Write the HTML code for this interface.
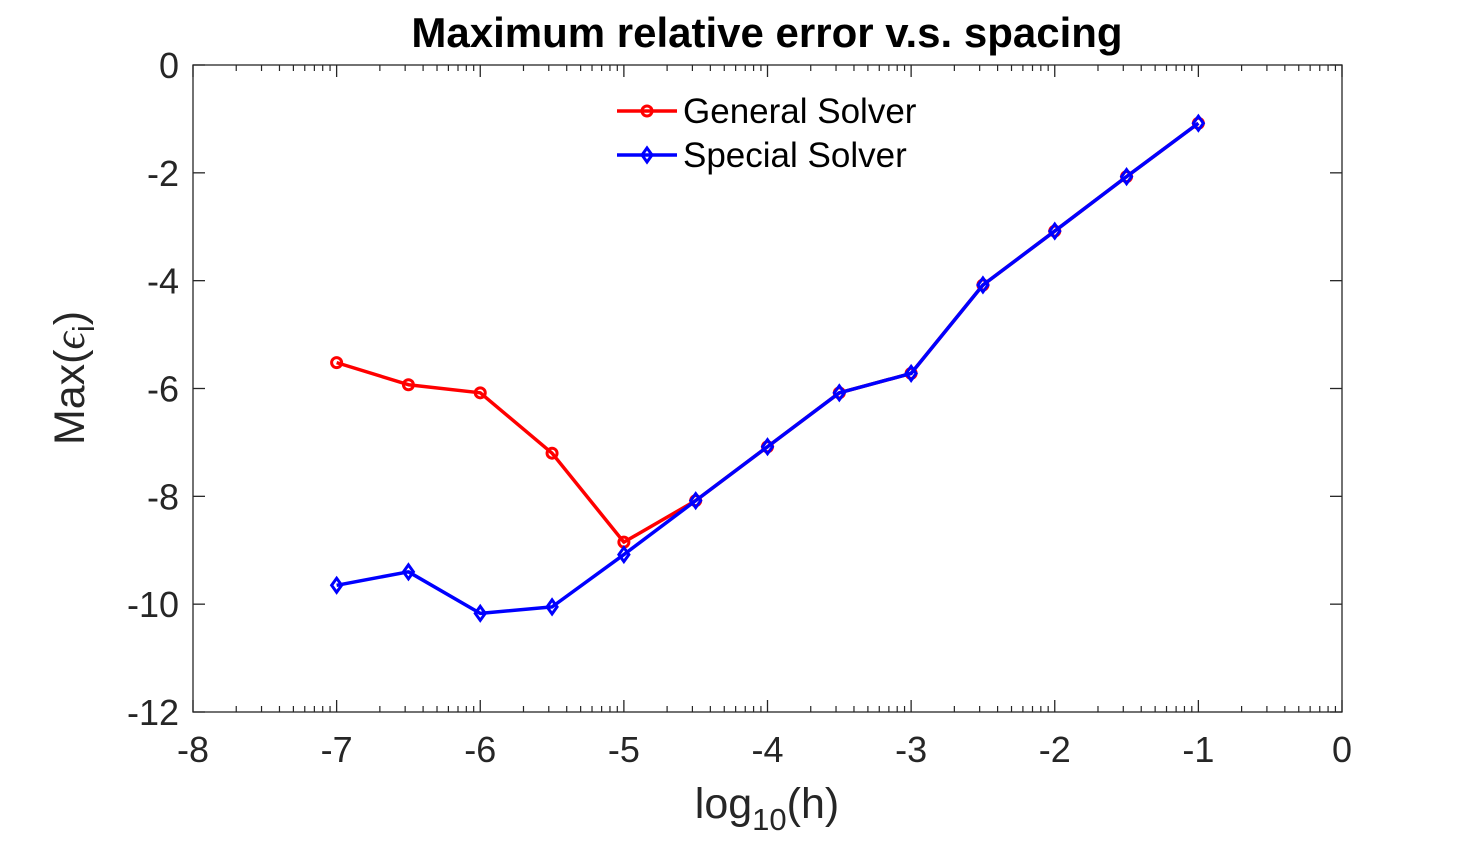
<!DOCTYPE html>
<html><head><meta charset="utf-8"><style>
html,body{margin:0;padding:0;background:#fff;}
svg{display:block;font-family:"Liberation Sans",Arial,sans-serif;}
</style></head><body>
<svg id="chart" width="1484" height="846" viewBox="0 0 1484 846">
<rect width="1484" height="846" fill="#fff"/>
<text x="767" y="47" text-anchor="middle" font-size="42" font-weight="bold" fill="#000">Maximum relative error v.s. spacing</text>
<g id="axes"></g>
<g id="series"></g>
<text x="767" y="818" text-anchor="middle" font-size="43" fill="#262626">log<tspan font-size="31" dy="12">10</tspan><tspan dy="-12">(h)</tspan></text>
<text transform="translate(84,378) rotate(-90)" text-anchor="middle" font-size="43" fill="#262626">Max(<tspan font-family="Liberation Serif" font-style="italic">ϵ</tspan><tspan font-size="31" dy="10">i</tspan><tspan dy="-10">)</tspan></text>
<g>
<line x1="617" y1="111" x2="677" y2="111" stroke="#f00" stroke-width="3.5"/>
<circle cx="647" cy="111" r="5" fill="none" stroke="#f00" stroke-width="3"/>
<text x="683" y="123" font-size="35" fill="#000">General Solver</text>
<line x1="617" y1="155" x2="677" y2="155" stroke="#00f" stroke-width="3.5"/>
<path d="M647 148 L652 155 L647 162 L642 155 Z" fill="none" stroke="#00f" stroke-width="3"/>
<text x="683" y="167" font-size="35" fill="#000">Special Solver</text>
</g>
</svg>
<script>
const xTicks=[-8,-7,-6,-5,-4,-3,-2,-1,0];
const yTicks=[0,-2,-4,-6,-8,-10,-12];
const generalX=[-7,-6.5,-6,-5.5,-5,-4.5,-4,-3.5,-3,-2.5,-2,-1.5,-1];
const generalY=[-5.52,-5.93,-6.08,-7.2,-8.85,-8.08,-7.08,-6.08,-5.72,-4.08,-3.08,-2.07,-1.08];
const specialX=[-7,-6.5,-6,-5.5,-5,-4.5,-4,-3.5,-3,-2.5,-2,-1.5,-1];
const specialY=[-9.65,-9.4,-10.17,-10.05,-9.08,-8.08,-7.08,-6.08,-5.72,-4.08,-3.08,-2.07,-1.08];
const L=193,R=1342,T=65,B=712;
const sx=v=>L+(v+8)/8*(R-L);
const sy=v=>T+(0-v)/12*(B-T);
const NS='http://www.w3.org/2000/svg';
function mk(tag,attrs,parent){const e=document.createElementNS(NS,tag);for(const k in attrs)e.setAttribute(k,attrs[k]);parent.appendChild(e);return e;}
const ax=document.getElementById('axes');
const box=mk('rect',{x:L,y:T,width:R-L,height:B-T,fill:'none',stroke:'#262626','stroke-width':1.3},ax);


xTicks.forEach(v=>{
  const x=sx(v);
  mk('line',{x1:x,y1:B,x2:x,y2:B-12,stroke:'#262626','stroke-width':1.3},ax);
  mk('line',{x1:x,y1:T,x2:x,y2:T+12,stroke:'#262626','stroke-width':1.3},ax);
  const t=mk('text',{x:x,y:B+50,'text-anchor':'middle','font-size':36,fill:'#262626'},ax);
  t.textContent=v;
  
  
  if(v>xTicks[0]){for(let k=2;k<=9;k++){const xm=sx(v-1+Math.log10(k));
    mk('line',{x1:xm,y1:B,x2:xm,y2:B-6,stroke:'#262626','stroke-width':1.2},ax);
    mk('line',{x1:xm,y1:T,x2:xm,y2:T+6,stroke:'#262626','stroke-width':1.2},ax);}}
});
yTicks.forEach(v=>{
  const y=sy(v);
  mk('line',{x1:L,y1:y,x2:L+12,y2:y,stroke:'#262626','stroke-width':1.3},ax);
  mk('line',{x1:R,y1:y,x2:R-12,y2:y,stroke:'#262626','stroke-width':1.3},ax);
  const t=mk('text',{x:L-14,y:y+13,'text-anchor':'end','font-size':36,fill:'#262626'},ax);
  t.textContent=v;
  
  
});
const sg=document.getElementById('series');
function draw(xs,ys,color,marker,name){
  const g=mk('g',{},sg);
  
  
  mk('polyline',{points:xs.map((x,i)=>sx(x)+','+sy(ys[i])).join(' '),fill:'none',stroke:color,'stroke-width':3.5,'stroke-linejoin':'round'},g);
  xs.forEach((x,i)=>{const cx=sx(x),cy=sy(ys[i]);let m;
    if(marker==='o')m=mk('circle',{cx:cx,cy:cy,r:5,fill:'none',stroke:color,'stroke-width':3},g);
    else m=mk('path',{d:`M${cx} ${cy-7}L${cx+5} ${cy}L${cx} ${cy+7}L${cx-5} ${cy}Z`,fill:'none',stroke:color,'stroke-width':3},g);
    
    
  });
}
draw(generalX,generalY,'#f00','o','general-solver-series');
draw(specialX,specialY,'#00f','d','special-solver-series');
</script>
</body></html>
